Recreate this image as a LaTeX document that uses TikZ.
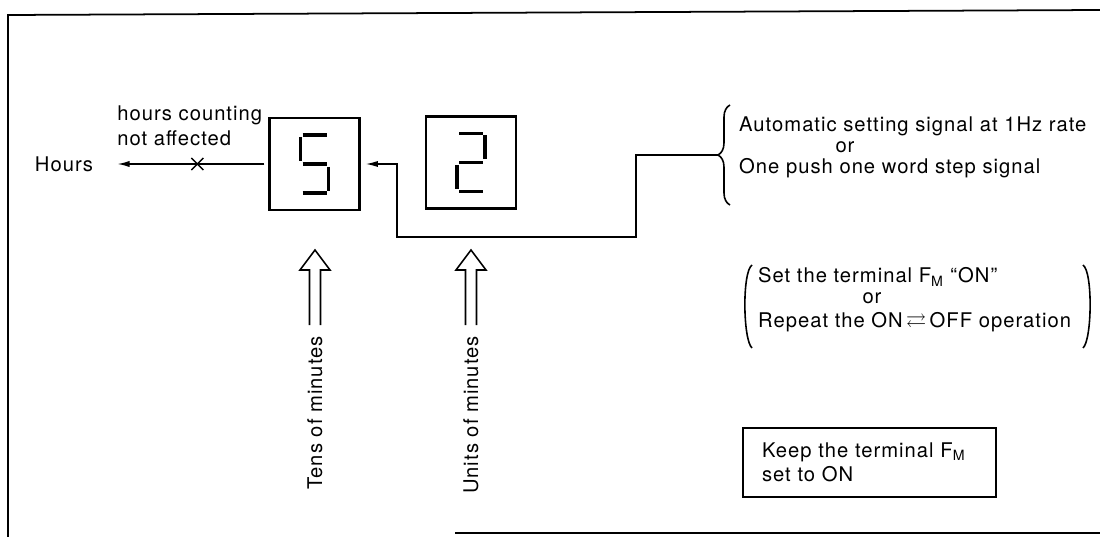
\documentclass[tikz,border=0pt]{standalone}
\usepackage{amssymb}
\usepackage{fontspec}
\setmainfont{TeX Gyre Heros}[LetterSpace=5]
\usetikzlibrary{
	arrows.meta,
	calc,
	decorations.pathreplacing,
	positioning
}

\tikzset{
	digitbox/.style={draw, line width=1.2pt, minimum width=1.8cm, minimum height=1.84cm},
	seg/.style={line width=2.2pt},
	sig/.style={line width=0.9pt, -{Latex[length=7pt, width=3.5pt]}},
	hollow/.style={line width=0.9pt, line join=miter},
	lbl/.style={font=\fontsize{11.5}{14}\selectfont}
}

\begin{document}
\begin{tikzpicture}[x=0.02cm, y=-0.02cm, lbl]
		\useasboundingbox (0,0) rectangle (1100,537);
		% frame of the figure
		\draw[line width=1pt] (8,537) -- (8,15) -- (1100,10);
		\draw[line width=1pt] (455,533) -- (1100,533);

		% the two digits
		\node[digitbox] (five) at (314.5,164) {};
		\node[digitbox] (two) at (471,162.5) {};
		\begin{scope}[shift={(five.center)}]
			\draw[seg] (-12,-29) -- (12,-29) (-14,-27) -- (-14,-3) (-12,0) -- (12,0)
			(14,3) -- (14,27) (-12,29) -- (12,29);
		\end{scope}
		\begin{scope}[shift={(two.center)}]
			\draw[seg] (-12,-29) -- (12,-29) (14,-27) -- (14,-3) (-12,0) -- (12,0)
			(-14,3) -- (-14,27) (-12,29) -- (12,29);
		\end{scope}

		% hours side
		\node (hours) at (64,164) {Hours};
		\node[anchor=west, align=left, inner sep=0pt] (note) at (117,126) {hours counting\\not affected};
		\draw[sig, shorten <=0.08cm, shorten >=0.36cm] (five.west) -- (hours.east)
			coordinate[pos=0.42] (cut);
		\draw[line width=0.9pt] (cut) ++(-6,-6) -- ++(12,12) (cut) ++(-6,6) -- ++(12,-12);

		% setting signal
		\coordinate (sig) at (718,155);
		\coordinate (turn) at (636,237);
		\draw[decorate, decoration={brace, amplitude=0.24cm}, line width=0.9pt] (730,205) -- (730,105);
		\node[anchor=west] (auto) at (733,126) {Automatic setting signal at 1Hz rate};
		\node (or1) at (845,147) {or};
		\node[anchor=west] (push) at (733,168) {One push one word step signal};
		\draw[sig, shorten >=0.1cm] (sig) -| (turn) -- (397,237) |- (five.east);

		% minutes inputs
		\node[rotate=90, anchor=east] (tens) at (315,330) {Tens of minutes};
		\node[rotate=90, anchor=east] (units) at (471,330) {Units of minutes};
		\foreach \n in {tens, units}{
			\begin{scope}[shift={(\n.east)}]
				\draw[hollow] (-5.5,-5) -- (-5.5,-60) -- (-15,-60) -- (0,-80) -- (15,-60) -- (5.5,-60) -- (5.5,-5);
			\end{scope}
		}

		% terminal F_M
		\draw[line width=0.9pt] (752,265) .. controls (742,272) and (743,340) .. (752,348);
		\draw[line width=0.9pt] (1083,265) .. controls (1093,272) and (1092,340) .. (1083,348);
		\node[anchor=west] (seton) at (752,277) {Set the terminal F\textsubscript{M} ``ON''};
		\node (or2) at (872,298) {or};
		\node[anchor=west] (repeat) at (752,322) {Repeat the ON\,$\rightleftarrows$\,OFF operation};
		\node[draw, line width=0.9pt, align=left, text width=4.3cm, inner xsep=0.38cm, minimum height=1.38cm] (keep)
			at (869.5,462.5) {Keep the terminal F\textsubscript{M}\\set to ON};
	\end{tikzpicture}
\end{document}
